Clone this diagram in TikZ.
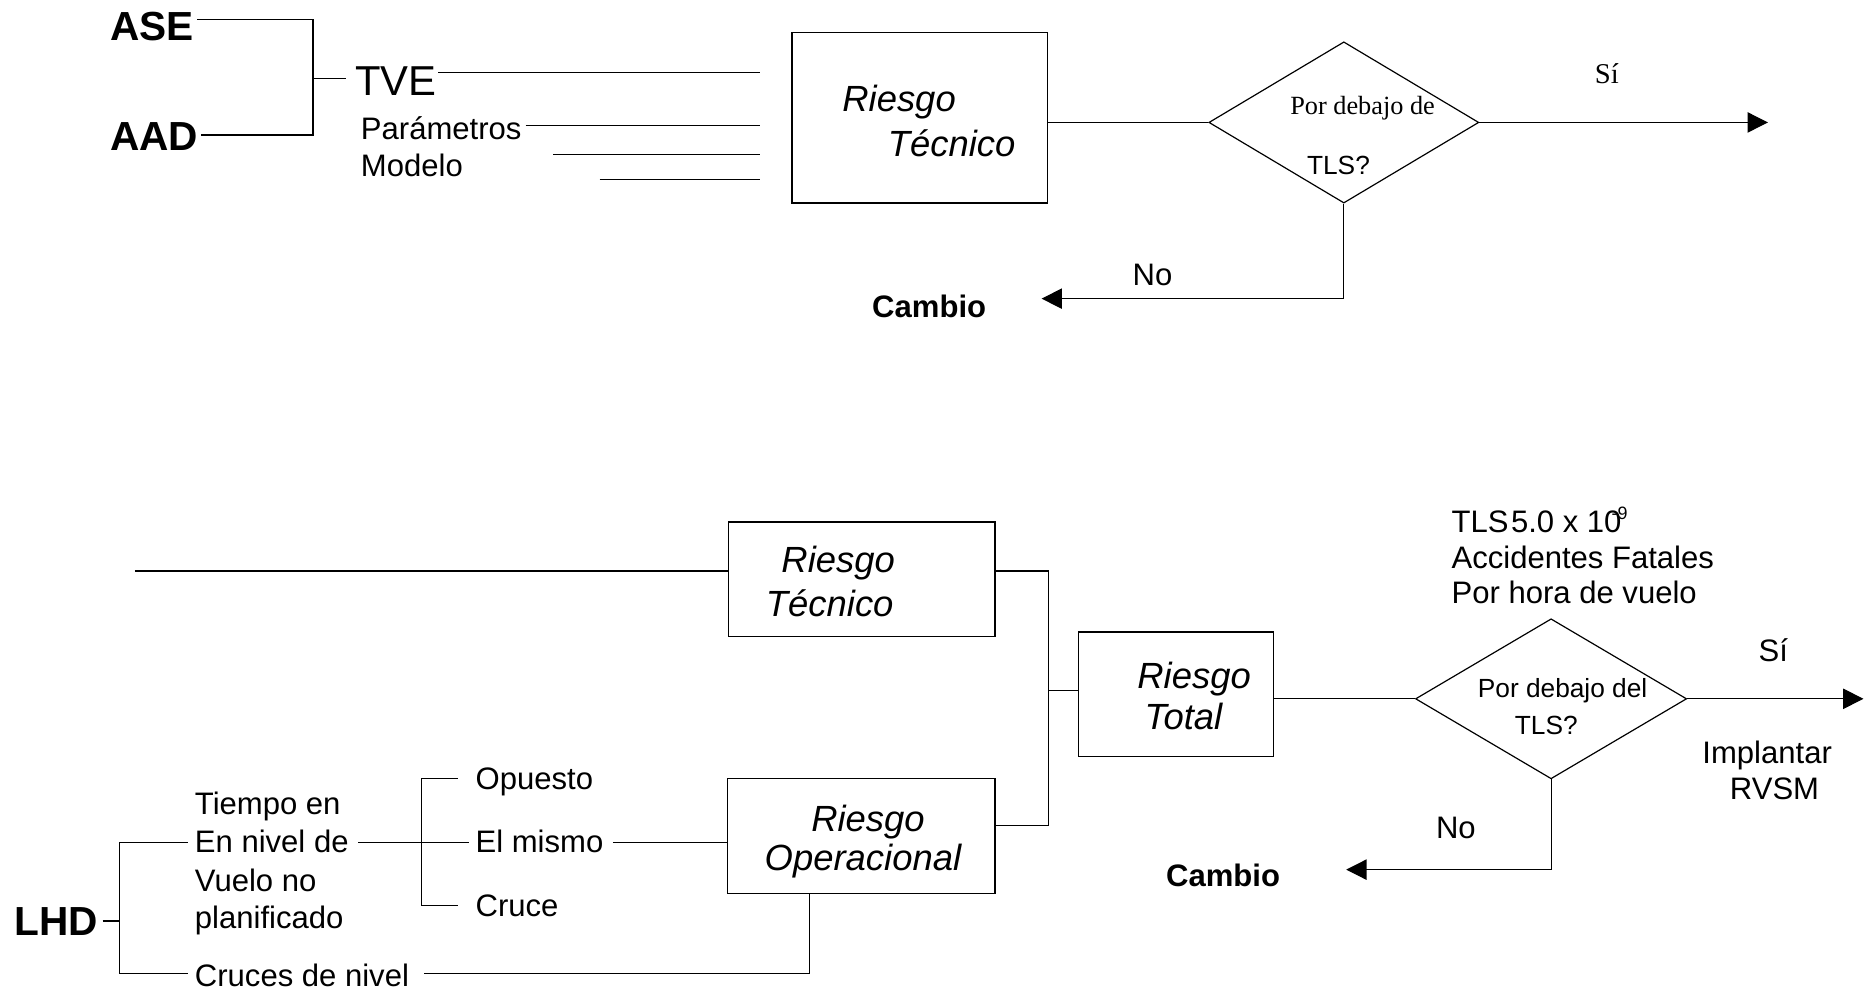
\documentclass[tikz,border=0pt]{standalone}
\usepackage{fontspec}
\setmainfont{Liberation Sans}
\newfontfamily\timesfont{Liberation Serif}
\usetikzlibrary{shapes.geometric,arrows.meta,calc}
\begin{document}
\begin{tikzpicture}[x=1pt,y=-1pt,
  lbl/.style={anchor=base west, inner sep=0pt, font=\fontsize{26}{30}\selectfont},
  sml/.style={anchor=base west, inner sep=0pt, font=\fontsize{22}{26}\selectfont},
  ser/.style={anchor=base west, inner sep=0pt, font=\fontsize{22}{26}\selectfont\timesfont},
  big/.style={anchor=base west, inner sep=0pt, font=\fontsize{35}{40}\selectfont},
  bigb/.style={anchor=base west, inner sep=0pt, font=\fontsize{34}{40}\selectfont\bfseries},
  bld/.style={anchor=base west, inner sep=0pt, font=\fontsize{26}{30}\selectfont\bfseries},
  ital/.style={anchor=base west, inner sep=0pt, font=\fontsize{30.5}{34}\selectfont\itshape},
  ln/.style={line width=1pt},
  arr/.style={line width=1pt, -{Triangle[length=17pt,width=17pt]}},
  box/.style={draw, line width=1pt, rectangle, inner sep=0pt},
  dia/.style={draw, diamond, inner sep=0pt, line width=1pt},
]
\useasboundingbox (0,0) rectangle (1568,831);

% ---------------- top part ----------------
\node[bigb] (ase) at (92,34) {ASE};
\node[bigb] (aad) at (92,126) {AAD};
\node[big] (tve) at (297,80) {TVE};
\node[lbl] (par) at (302,117) {Parámetros};
\node[lbl] (mod) at (302,148) {Modelo};

\coordinate (jA) at (262,16);
\coordinate (jB) at (262,113);
\coordinate (jT) at (262,66);
\coordinate (tveIn) at (290,66);
\draw[ln] (165,16) coordinate (aseOut) -- (jA) -- (jB) -- (168,113) coordinate (aadOut);
\draw[ln] (jT) -- (tveIn);

\node[box, minimum width=214pt, minimum height=143pt] (rt1) at (770,98.5) {};
\node[ital] (rt1a) at (705,93) {Riesgo};
\node[ital] (rt1b) at (743,131) {Técnico};

\coordinate (in1) at (636,61);
\coordinate (in2) at (636,105);
\coordinate (in3) at (636,129);
\coordinate (in4) at (636,150);
\draw[ln] (367,61) -- (in1);
\draw[ln] (440,105) -- (in2);
\draw[ln] (463,129) -- (in3);
\draw[ln] (502,150) -- (in4);

\node[dia, minimum width=226pt, minimum height=135pt] (d1) at (1125,102.5) {};
\node[ser] (d1a) at (1080,96) {Por debajo de};
\node[sml] (d1b) at (1094,146) {TLS?};
\draw[ln] (d1.west -| rt1.east) -- (d1.west);

\coordinate (yes1) at (1480,102.5);
\draw[arr] (d1.east) -- (yes1);
\node[anchor=base west, inner sep=0pt, font=\fontsize{24}{28}\selectfont\timesfont] (si1) at (1335,70) {Sí};

\coordinate (no1) at (872,250);
\draw[arr] (d1.south) |- (no1);
\node[lbl] (no1t) at (948,239) {No};
\node[bld] (camb1) at (730,266) {Cambio};

% ---------------- bottom part ----------------
\node[box, minimum width=223pt, minimum height=96pt] (rt2) at (721.5,485) {};
\node[ital] (rt2a) at (654,479) {Riesgo};
\node[ital] (rt2b) at (641,516) {Técnico};
\draw[ln] (113,478) coordinate (tin) -- (tin -| rt2.west);

\node[box, minimum width=163pt, minimum height=104pt] (rtot) at (984.5,581) {};
\node[ital] (rtota) at (952,576) {Riesgo};
\node[ital] (rtotb) at (958,611) {Total};

\node[box, minimum width=224pt, minimum height=96pt] (rop) at (721,700) {};
\node[ital] (ropa) at (679,696) {Riesgo};
\node[ital] (ropb) at (640,729) {Operacional};

\coordinate (mT) at (878,478);
\coordinate (mO) at (878,691);
\coordinate (mM) at (878,578);
\draw[ln] (mT -| rt2.east) -- (mT) -- (mO) -- (mO -| rop.east);
\draw[ln] (mM) -- (mM -| rtot.west);

\node[dia, minimum width=227pt, minimum height=134pt] (d2) at (1298.5,585) {};
\node[sml] (d2a) at (1237,584) {Por debajo del};
\node[sml] (d2b) at (1268,615) {TLS?};
\draw[ln] (d2.west -| rtot.east) -- (d2.west);

\coordinate (yes2) at (1560,585);
\draw[arr] (d2.east) -- (yes2);
\node[lbl] (si2) at (1472,554) {Sí};
\node[lbl] (impl) at (1425,639) {Implantar};
\node[lbl] (rvsm) at (1448,669) {RVSM};

\node[lbl] (tls1) at (1215,446) {TLS\kern0.08em 5.0 x 10\kern-0.32em\raisebox{0.42em}{\fontsize{15}{17}\selectfont -9}};
\node[lbl] (tls2) at (1215,476) {Accidentes Fatales};
\node[lbl] (tls3) at (1215,505) {Por hora de vuelo};

\coordinate (no2) at (1127,728);
\draw[arr] (d2.south) |- (no2);
\node[lbl] (no2t) at (1202,702) {No};
\node[bld] (camb2) at (976,742) {Cambio};

% LHD tree
\node[bigb] (lhd) at (12,783) {LHD};
\node[lbl] (t1) at (163,682) {Tiempo en};
\node[lbl] (t2) at (163,714) {En nivel de};
\node[lbl] (t3) at (163,746) {Vuelo no};
\node[lbl] (t4) at (163,777) {planificado};
\node[lbl] (cdn) at (163,826) {Cruces de nivel};
\node[lbl] (opu) at (398,661) {Opuesto};
\node[lbl] (mis) at (398,714) {El mismo};
\node[lbl] (cru) at (398,767) {Cruce};

\coordinate (lA) at (100,705);
\coordinate (lB) at (100,815);
\coordinate (lM) at (100,771);
\draw[ln] (86,771) -- (lM);
\draw[ln] (157,705) -- (lA) -- (lB) -- (157,815);

\coordinate (kA) at (353,652);
\coordinate (kB) at (353,758);
\draw[ln] (300,705) -- (393,705);
\draw[ln] (383,652) -- (kA) -- (kB) -- (383,758);
\draw[ln] (513,705) -- (513,705 -| rop.west);

\coordinate (cK) at (678,815);
\draw[ln] (355,815) -- (cK) -- (cK |- rop.south);
\end{tikzpicture}
\end{document}
